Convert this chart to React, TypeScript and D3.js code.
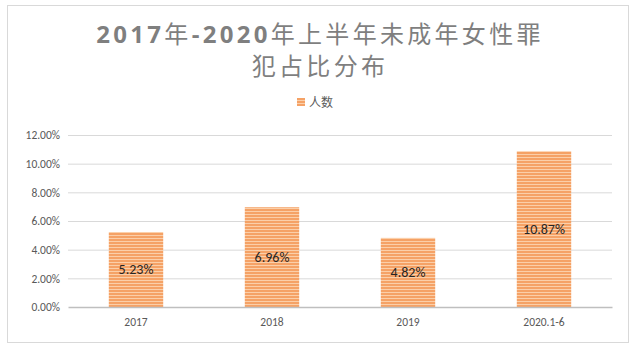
import React, { useEffect, useRef } from "react";
import { select, scaleBand, scaleLinear, axisLeft, axisBottom } from "d3";

const categories = ["2017", "2018", "2019", "2020.1-6"];
const values = [5.23, 6.96, 4.82, 10.87];
const yTicks = [0, 2, 4, 6, 8, 10, 12];
const titleLines = ["2017年-2020年上半年未成年女性罪", "犯占比分布"];
const seriesName = "人数";

const font = "Calibri, Carlito, 'Liberation Sans', 'Noto Sans CJK SC', sans-serif";

function App() {
  const svgRef = useRef<SVGSVGElement>(null);

  useEffect(() => {
    const width = 640;
    const height = 351;
    const margin = { left: 68, right: 28, top: 135, bottom: 44 };
    const svg = select(svgRef.current);
    svg.selectAll("*").remove();

    const defs = svg.append("defs");
    const pat = defs
      .append("pattern")
      .attr("id", "stripes")
      .attr("patternUnits", "userSpaceOnUse")
      .attr("width", 6)
      .attr("height", 3);
    pat.append("rect").attr("width", 6).attr("height", 3).attr("fill", "#f5a266");
    pat.append("rect").attr("y", 1).attr("width", 6).attr("height", 1).attr("fill", "#fbcfa9");

    // outer frame
    svg
      .append("rect")
      .attr("x", 7.5)
      .attr("y", 5.5)
      .attr("width", 621)
      .attr("height", 337)
      .attr("fill", "#fff")
      .attr("stroke", "#d9d9d9");

    // title: latin runs bold, CJK normal
    const title = svg
      .selectAll(".title")
      .data(titleLines)
      .join("text")
      .attr("class", "title")
      .attr("x", 320)
      .attr("y", (d, i) => 43 + i * 32)
      .attr("text-anchor", "middle")
      .attr("fill", "#7f7f7f")
      .attr("font-size", 24)
      .attr("letter-spacing", 3.3);
    title
      .selectAll("tspan")
      .data((d) => d.match(/[0-9\-]+|[^0-9\-]+/g) || [])
      .join("tspan")
      .attr("font-weight", (d) => (/[0-9]/.test(d) ? "bold" : "normal"))
      .attr("font-family", (d) => (/[0-9]/.test(d) ? "'Open Sans', 'Noto Sans', sans-serif" : "'Noto Sans CJK SC', sans-serif"))
      .text((d) => d);

    // legend
    svg.append("rect").attr("x", 297).attr("y", 98).attr("width", 8).attr("height", 8).attr("fill", "url(#stripes)");
    svg
      .append("text")
      .attr("x", 309)
      .attr("y", 106.5)
      .attr("fill", "#595959")
      .attr("font-family", "'Noto Sans CJK SC', sans-serif")
      .attr("font-size", 12)
      .text(seriesName);

    const x = scaleBand()
      .domain(categories)
      .range([margin.left, width - margin.right])
      .paddingInner(0.6)
      .paddingOuter(0.3);

    const y = scaleLinear()
      .domain([0, 12])
      .range([height - margin.bottom, margin.top]);

    // gridlines
    svg
      .append("g")
      .selectAll("line")
      .data(yTicks.slice(1))
      .join("line")
      .attr("x1", margin.left)
      .attr("x2", width - margin.right)
      .attr("y1", (d) => y(d) + 0.5)
      .attr("y2", (d) => y(d) + 0.5)
      .attr("stroke", "#d9d9d9");

    const yAxis = svg
      .append("g")
      .attr("transform", `translate(${margin.left},0)`)
      .call(
        axisLeft(y)
          .tickValues(yTicks)
          .tickSize(0)
          .tickPadding(8)
          .tickFormat((d) => (d as number).toFixed(2) + "%")
      );
    yAxis.select(".domain").remove();
    yAxis.selectAll("text").attr("fill", "#595959").attr("font-size", 11.5).attr("font-family", font);

    // bars
    svg
      .selectAll(".bar")
      .data(values)
      .join("rect")
      .attr("class", "bar")
      .attr("x", (d, i) => x(categories[i]))
      .attr("y", (d) => y(d))
      .attr("width", x.bandwidth())
      .attr("height", (d) => y(0) - y(d))
      .attr("fill", "url(#stripes)");

    svg
      .selectAll(".label")
      .data(values)
      .join("text")
      .attr("class", "label")
      .attr("x", (d, i) => x(categories[i]) + x.bandwidth() / 2)
      .attr("y", (d) => (y(d) + y(0)) / 2)
      .attr("dy", "0.35em")
      .attr("text-anchor", "middle")
      .attr("fill", "#262626")
      .attr("font-size", 14)
      .attr("font-family", font)
      .text((d) => d.toFixed(2) + "%");

    const xAxis = svg
      .append("g")
      .attr("transform", `translate(0,${y(0)})`)
      .call(axisBottom(x).tickSize(0).tickPadding(11));
    xAxis.select(".domain").attr("stroke", "#bfbfbf").attr("stroke-width", 1.5);
    xAxis.selectAll("text").attr("fill", "#595959").attr("font-size", 11.5).attr("font-family", font);
  }, []);

  return (
    <svg
      ref={svgRef}
      width={640}
      height={351}
      style={{ position: "absolute", left: 0, top: 0, background: "#fff" }}
    />
  );
}

export default App;
